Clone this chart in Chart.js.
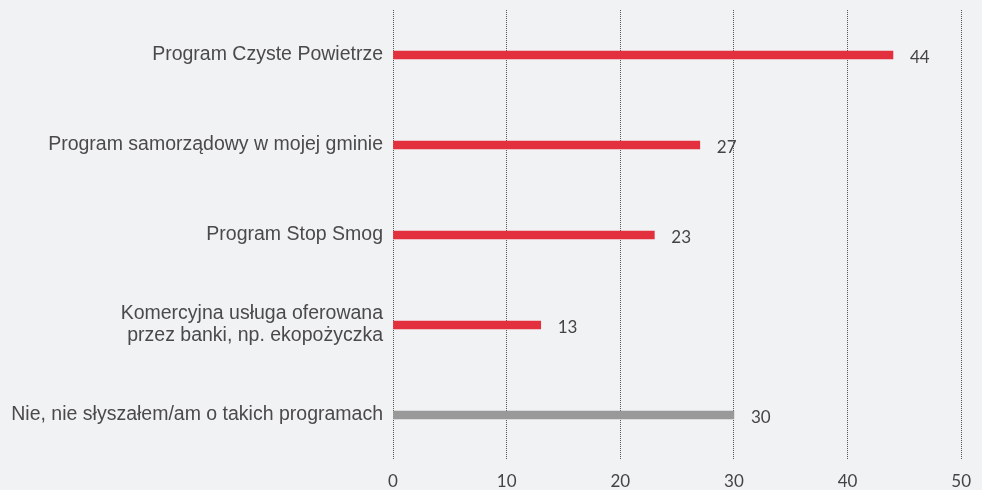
<!DOCTYPE html>
<html>
<head>
<meta charset="utf-8">
<script src="https://cdn.jsdelivr.net/npm/chart.js@4/dist/chart.umd.min.js"></script>
<style>
html,body{margin:0;padding:0;background:#f1f2f4;}
#wrap{width:982px;height:490px;position:relative;}
</style>
</head>
<body>
<div id="wrap"><canvas id="c"></canvas></div>
<script>
const categories = [
  "Program Czyste Powietrze",
  "Program samorządowy w mojej gminie",
  "Program Stop Smog",
  ["Komercyjna usługa oferowana", "przez banki, np. ekopożyczka"],
  "Nie, nie słyszałem/am o takich programach"
];
const values = [44, 27, 23, 13, 30];
const barColors = ["#e2303e", "#e2303e", "#e2303e", "#e2303e", "#999999"];
const xTicks = [0, 10, 20, 30, 40, 50];

const valueLabels = {
  id: 'valueLabels',
  afterDatasetsDraw(chart) {
    const ctx = chart.ctx;
    const meta = chart.getDatasetMeta(0);
    ctx.save();
    ctx.font = '400 17px Lato, "Open Sans", sans-serif';
    ctx.fillStyle = '#444';
    ctx.textAlign = 'left';
    ctx.textBaseline = 'middle';
    meta.data.forEach((bar, i) => {
      ctx.fillText(String(values[i]), bar.x + 17, bar.y + 3);
    });
    ctx.restore();
  }
};

new Chart(document.getElementById('c'), {
  type: 'bar',
  data: {
    labels: categories,
    datasets: [{
      data: values,
      backgroundColor: barColors,
      barThickness: 8,
      borderWidth: 0
    }]
  },
  options: {
    indexAxis: 'y',
    responsive: true,
    maintainAspectRatio: false,
    animation: false,
    layout: { padding: { top: 10, right: 13, bottom: 0, left: 0 } },
    plugins: { legend: { display: false }, tooltip: { enabled: false } },
    scales: {
      x: {
        min: 0, max: 50,
        afterBuildTicks(scale) { scale.ticks = xTicks.map(v => ({ value: v })); },
        afterFit(scale) { scale.height = 30; },
        border: { display: false, dash: [1, 1], color: '#555' },
        grid: {
          color: '#555',
          lineWidth: 1,
          drawTicks: false
        },
        ticks: {
          color: '#444',
          font: { size: 17, family: 'Lato, "Open Sans", sans-serif', weight: '400' },
          padding: 11
        }
      },
      y: {
        afterFit(scale) {
          scale.width = 393;
          scale.paddingTop = 0;
          scale.paddingBottom = 0;
        },
        border: { display: false },
        grid: { display: false, drawTicks: false },
        ticks: {
          color: '#4a4a4a',
          font: { size: 19.5, family: '"Liberation Sans", Arial, sans-serif', weight: '400', lineHeight: 1.13 },
          padding: 10
        }
      }
    }
  },
  plugins: [valueLabels]
});
</script>
</body>
</html>
